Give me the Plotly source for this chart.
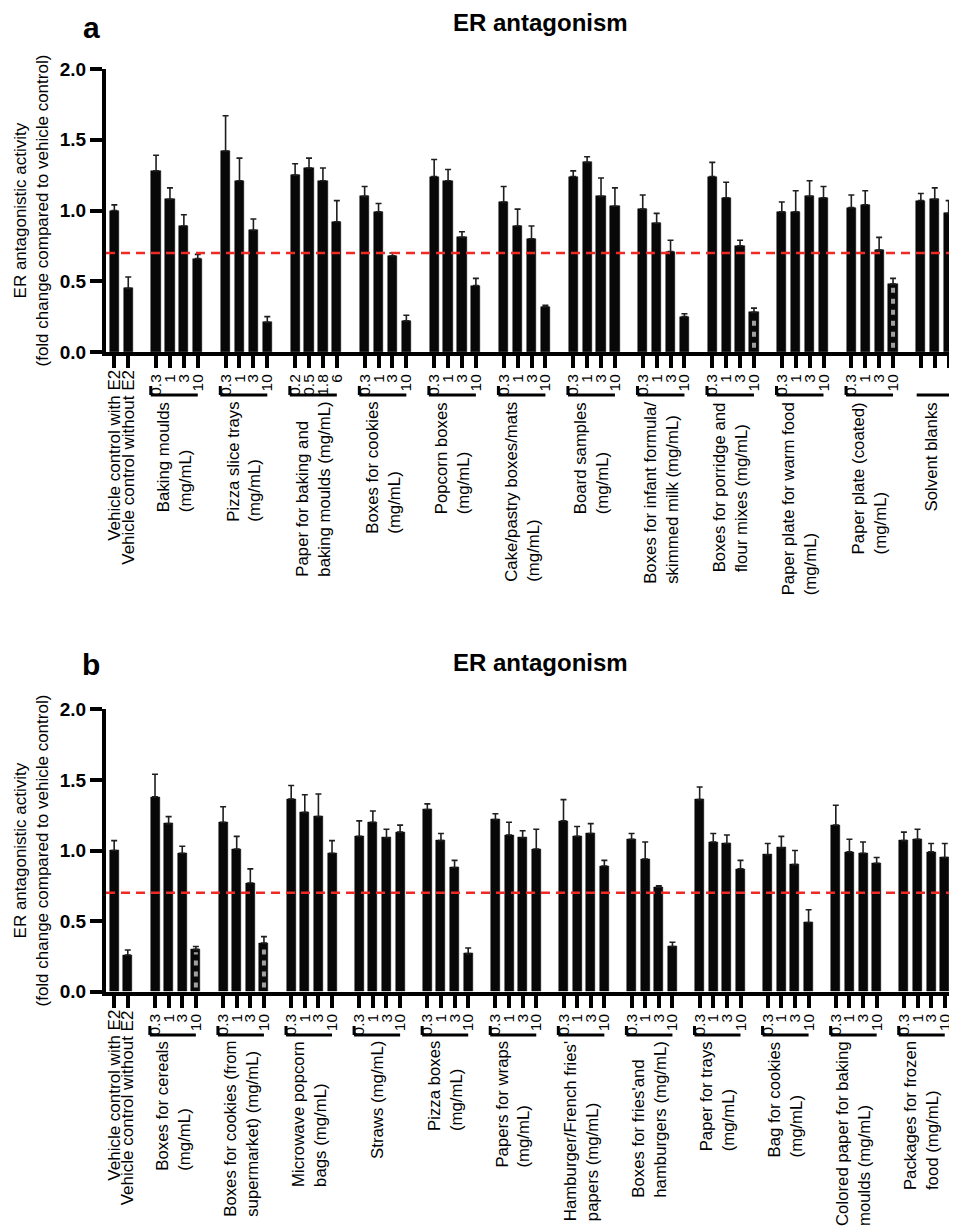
import plotly.graph_objects as go

W, H = 957, 1226
OFF = 8  # the page body adds an 8px margin; compensate so the picture lines up
FONT = "Arial, 'Liberation Sans', Helvetica, sans-serif"

# ---------------- Panel a data ----------------
A_VEHICLE = ["Vehicle control with E2", "Vehicle control without E2"]
A_VEH_VALUES = [1.00, 0.45]
A_VEH_TOPS = [1.04, 0.53]

A_GROUPS = [
    "Baking moulds<br>(mg/mL)",
    "Pizza slice trays<br>(mg/mL)",
    "Paper for baking and<br>baking moulds (mg/mL)",
    "Boxes for cookies<br>(mg/mL)",
    "Popcorn boxes<br>(mg/mL)",
    "Cake/pastry boxes/mats<br>(mg/mL)",
    "Board samples<br>(mg/mL)",
    "Boxes for infant formula/<br>skimmed milk (mg/mL)",
    "Boxes for porridge and<br>flour mixes (mg/mL)",
    "Paper plate for warm food<br>(mg/mL)",
    "Paper plate (coated)<br>(mg/mL)",
    "Solvent blanks",
]
A_CONC = [
    ["0.3", "1", "3", "10"],
    ["0.3", "1", "3", "10"],
    ["0.2", "0.5", "1.8", "6"],
    ["0.3", "1", "3", "10"],
    ["0.3", "1", "3", "10"],
    ["0.3", "1", "3", "10"],
    ["0.3", "1", "3", "10"],
    ["0.3", "1", "3", "10"],
    ["0.3", "1", "3", "10"],
    ["0.3", "1", "3", "10"],
    ["0.3", "1", "3", "10"],
    ["", "", ""],
]
A_VALUES = [
    [1.28, 1.08, 0.89, 0.66],
    [1.42, 1.21, 0.86, 0.21],
    [1.25, 1.30, 1.21, 0.92],
    [1.10, 0.99, 0.68, 0.22],
    [1.24, 1.21, 0.81, 0.47],
    [1.06, 0.89, 0.80, 0.32],
    [1.24, 1.34, 1.10, 1.03],
    [1.01, 0.91, 0.71, 0.25],
    [1.24, 1.09, 0.75, 0.28],
    [0.99, 0.99, 1.10, 1.09],
    [1.02, 1.04, 0.72, 0.48],
    [1.07, 1.08, 0.98],
]
A_TOPS = [
    [1.39, 1.16, 0.97, 0.69],
    [1.67, 1.37, 0.94, 0.25],
    [1.33, 1.37, 1.30, 1.07],
    [1.17, 1.05, 0.70, 0.26],
    [1.36, 1.29, 0.85, 0.52],
    [1.17, 1.01, 0.89, 0.33],
    [1.28, 1.38, 1.23, 1.16],
    [1.11, 0.98, 0.79, 0.27],
    [1.34, 1.20, 0.79, 0.31],
    [1.06, 1.14, 1.21, 1.17],
    [1.11, 1.14, 0.81, 0.52],
    [1.12, 1.16, 1.07],
]
A_DOTTED = [(8, 3), (10, 3)]  # (group index, bar index)

# ---------------- Panel b data ----------------
B_VEHICLE = ["Vehicle control with E2", "Vehicle control without E2"]
B_VEH_VALUES = [1.00, 0.26]
B_VEH_TOPS = [1.07, 0.295]

B_GROUPS = [
    "Boxes for cereals<br>(mg/mL)",
    "Boxes for cookies (from<br>supermarket) (mg/mL)",
    "Microwave popcorn<br>bags (mg/mL)",
    "Straws (mg/mL)",
    "Pizza boxes<br>(mg/mL)",
    "Papers for wraps<br>(mg/mL)",
    "Hamburger/French fries'<br>papers (mg/mL)",
    "Boxes for fries'and<br>hamburgers (mg/mL)",
    "Paper for trays<br>(mg/mL)",
    "Bag for cookies<br>(mg/mL)",
    "Colored paper for baking<br>moulds (mg/mL)",
    "Packages for frozen<br>food (mg/mL)",
]
B_CONC = [["0.3", "1", "3", "10"] for _ in range(12)]
B_VALUES = [
    [1.38, 1.19, 0.98, 0.30],
    [1.20, 1.01, 0.77, 0.345],
    [1.365, 1.27, 1.24, 0.98],
    [1.10, 1.20, 1.09, 1.13],
    [1.29, 1.07, 0.88, 0.27],
    [1.22, 1.11, 1.09, 1.01],
    [1.21, 1.10, 1.12, 0.89],
    [1.08, 0.94, 0.74, 0.32],
    [1.36, 1.06, 1.05, 0.87],
    [0.97, 1.02, 0.90, 0.49],
    [1.18, 0.99, 0.98, 0.91],
    [1.07, 1.08, 0.99, 0.95],
]
B_TOPS = [
    [1.54, 1.24, 1.03, 0.32],
    [1.31, 1.10, 0.87, 0.39],
    [1.46, 1.395, 1.40, 1.07],
    [1.21, 1.28, 1.15, 1.18],
    [1.33, 1.12, 0.93, 0.31],
    [1.26, 1.20, 1.14, 1.15],
    [1.36, 1.17, 1.19, 0.93],
    [1.12, 1.06, 0.75, 0.35],
    [1.45, 1.12, 1.11, 0.93],
    [1.05, 1.10, 1.00, 0.58],
    [1.32, 1.08, 1.06, 0.95],
    [1.13, 1.15, 1.05, 1.05],
]
B_DOTTED = [(0, 3), (1, 3)]

THRESHOLD = 0.7
Y_TICKS = [0, 0.5, 1.0, 1.5, 2.0]


def px_x(px):
    return (px - OFF) / W


def px_y(py):
    return 1 - (py - OFF) / H


fig = go.Figure()
shapes = []
annotations = []


def build_panel(sfx, veh_labels, veh_vals, veh_tops, groups, concs, values, tops, dotted,
                base_px, top_px, xmax, letter, brkt_px, lbl_px, veh_lbl_px, title_px, letter_px):
    xa = "x" + sfx
    ya = "y" + sfx
    xs, ys, errs, tickvals, ticktext = [], [], [], [], []
    # vehicle controls
    for i, (v, t) in enumerate(zip(veh_vals, veh_tops)):
        xs.append(i)
        ys.append(v)
        errs.append(t - v)
        tickvals.append(i)
        ticktext.append("")
        annotations.append(dict(x=i, y=px_y(veh_lbl_px), xref=xa, yref="paper", text=veh_labels[i],
                                textangle=-90, xanchor="center", yanchor="top", showarrow=False,
                                font=dict(family=FONT, size=17, color="black")))
    slot = len(veh_vals) + 1
    dot_x, dot_y = [], []
    for g, (lab, cs, vs, ts) in enumerate(zip(groups, concs, values, tops)):
        pos = []
        for j, (c, v, t) in enumerate(zip(cs, vs, ts)):
            xs.append(slot)
            ys.append(v)
            errs.append(t - v)
            pos.append(slot)
            tickvals.append(slot)
            ticktext.append(c)
            if (g, j) in dotted:
                dot_x += [slot, slot, None]
                dot_y += [0.03, v - 0.02, None]
            slot += 1
        slot += 1
        # bracket
        has_conc = any(c != "" for c in cs)
        if has_conc:
            x0 = pos[0] - 0.38
            x1 = pos[-1]
        else:
            x0 = pos[0] - 0.3
            x1 = pos[-1] + 0.25
        shapes.append(dict(type="line", xref=xa, yref="paper", x0=x0, x1=x1,
                           y0=px_y(brkt_px), y1=px_y(brkt_px), line=dict(color="black", width=3)))
        if has_conc:
            shapes.append(dict(type="line", xref=xa, yref="paper", x0=x0, x1=x0,
                               y0=px_y(brkt_px - 9), y1=px_y(brkt_px), line=dict(color="black", width=3)))
        cx = (pos[0] + pos[-1]) / 2 - 0.2
        annotations.append(dict(x=cx, y=px_y(lbl_px), xref=xa, yref="paper", text=lab,
                                textangle=-90, xanchor="center", yanchor="top", align="left",
                                showarrow=False, font=dict(family=FONT, size=16.8, color="black")))

    fig.add_trace(go.Bar(
        x=xs, y=ys, width=0.66, xaxis=xa, yaxis=ya, showlegend=False, hoverinfo="skip",
        marker=dict(color="#080808", line=dict(color="#000000", width=0.5)),
        error_y=dict(type="data", symmetric=False, array=errs, arrayminus=[0] * len(errs),
                     color="#1e1e1e", thickness=1.6, width=3),
    ))
    if dot_x:
        fig.add_trace(go.Scatter(
            x=dot_x, y=dot_y, mode="lines", xaxis=xa, yaxis=ya, showlegend=False, hoverinfo="skip",
            line=dict(color="#a0a0a0", width=4, dash="5px,6px"),
        ))
    shapes.append(dict(type="line", xref=xa + " domain", yref=ya, x0=0, x1=1,
                       y0=THRESHOLD, y1=THRESHOLD, layer="above",
                       line=dict(color="#ee2a24", width=2.5, dash="9px,6px")))

    dom_y = [px_y(base_px), px_y(top_px)]
    layout_x = dict(domain=[px_x(106), px_x(957)], range=[-0.6, xmax], anchor=ya, showline=True,
                    linecolor="black", linewidth=4, ticks="outside", ticklen=12, tickwidth=4,
                    tickcolor="black", tickmode="array", tickvals=tickvals, ticktext=ticktext,
                    tickangle=-90, tickfont=dict(family=FONT, size=15.5, color="black"),
                    showgrid=False, zeroline=False, automargin=False, fixedrange=True)
    layout_y = dict(domain=dom_y, range=[0, 2.0], anchor=xa, showline=True, linecolor="black",
                    linewidth=4, ticks="outside", ticklen=12, tickwidth=3.5, tickcolor="black",
                    tickmode="array", tickvals=Y_TICKS, ticktext=["%.1f" % t for t in Y_TICKS],
                    tickfont=dict(family=FONT, size=19, color="black", weight="bold"),
                    showgrid=False, zeroline=False, automargin=False, fixedrange=True)
    fig.layout["xaxis" + sfx] = layout_x
    fig.layout["yaxis" + sfx] = layout_y

    mid = (base_px + top_px) / 2
    annotations.append(dict(x=px_x(31), y=px_y(mid), xref="paper", yref="paper",
                            text="ER antagonistic activity<br>(fold change compared to vehicle control)",
                            textangle=-90, xanchor="center", yanchor="middle", showarrow=False,
                            font=dict(family=FONT, size=17, color="black")))
    annotations.append(dict(x=px_x(540), y=px_y(title_px), xref="paper", yref="paper",
                            text="<b>ER antagonism</b>", xanchor="center", yanchor="middle",
                            showarrow=False, font=dict(family=FONT, size=24, color="black")))
    annotations.append(dict(x=px_x(91), y=px_y(letter_px), xref="paper", yref="paper",
                            text="<b>%s</b>" % letter, xanchor="center", yanchor="middle",
                            showarrow=False, font=dict(family=FONT, size=30, color="black")))


build_panel("", A_VEHICLE, A_VEH_VALUES, A_VEH_TOPS, A_GROUPS, A_CONC, A_VALUES, A_TOPS, A_DOTTED,
            352, 69, 60.6, "a", 395, 400, 368, 22, 28)
build_panel("2", B_VEHICLE, B_VEH_VALUES, B_VEH_TOPS, B_GROUPS, B_CONC, B_VALUES, B_TOPS, B_DOTTED,
            991.7, 709.3, 61.9, "b", 1035, 1039, 1008, 662, 664)

fig.update_layout(
    width=W, height=H, margin=dict(l=0, r=0, t=0, b=0),
    paper_bgcolor="white", plot_bgcolor="white",
    shapes=shapes, annotations=annotations, bargap=0,
    font=dict(family=FONT, color="black"),
)

fig.write_html("out.html")
